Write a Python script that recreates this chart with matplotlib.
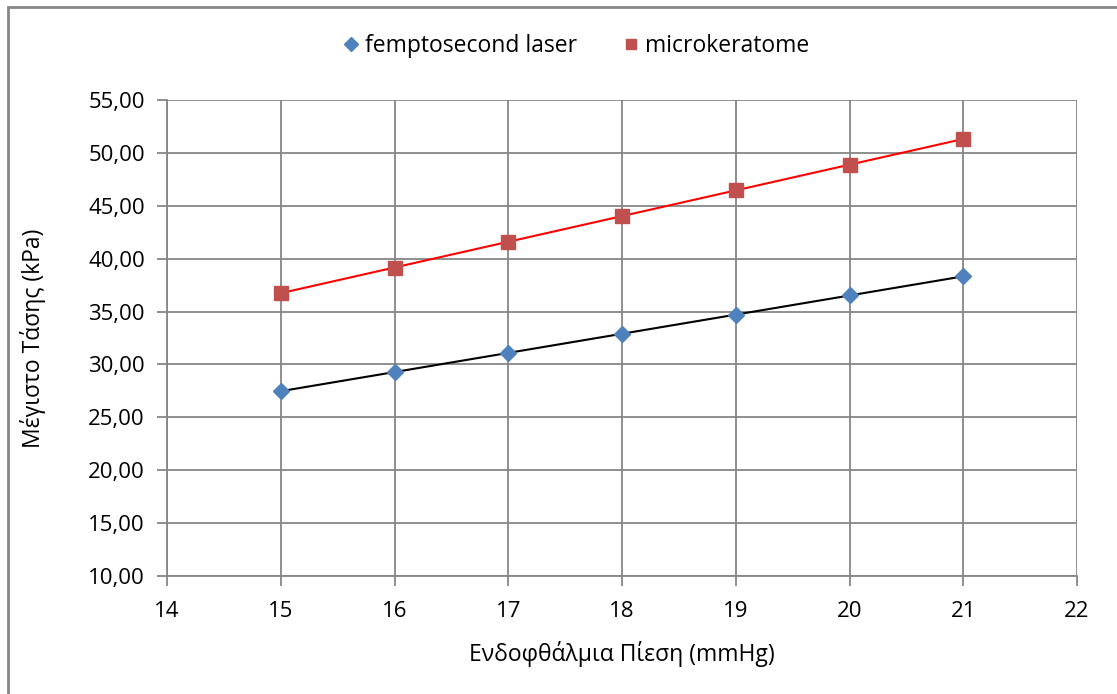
import numpy as np
import matplotlib
matplotlib.use("Agg")
import matplotlib.pyplot as plt
from matplotlib.patches import Rectangle

plt.rcParams['font.family'] = ['Open Sans', 'DejaVu Sans']

pressure = [15, 16, 17, 18, 19, 20, 21]
femto = [27.49, 29.29, 31.08, 32.88, 34.68, 36.52, 38.36]
micro = [36.75, 39.16, 41.58, 44.03, 46.45, 48.90, 51.31]

series_names = ["femptosecond laser", "microkeratome"]
x_ticks = [14, 15, 16, 17, 18, 19, 20, 21, 22]
y_ticks = [10, 15, 20, 25, 30, 35, 40, 45, 50, 55]

W, H = 1117, 694
fig = plt.figure(figsize=(W / 100, H / 100), dpi=100)
ax = fig.add_axes([167 / W, 1 - 576 / H, (1077 - 167) / W, (576 - 100) / H])

grid_c = '#868686'
ax.set_xlim(14, 22)
ax.set_ylim(10, 55)
ax.set_xticks(x_ticks)
ax.set_yticks(y_ticks)
ax.set_yticklabels([f"{v:.2f}".replace('.', ',') for v in y_ticks])
ax.grid(True, color=grid_c, linewidth=1.3)
ax.set_axisbelow(True)
for s in ['top', 'right']:
    ax.spines[s].set_visible(False)
for s in ['left', 'bottom']:
    ax.spines[s].set_color(grid_c)
    ax.spines[s].set_linewidth(1.3)
ax.tick_params(axis='both', colors=grid_c, length=7, width=1.3, labelsize=16,
               labelcolor='black')
ax.tick_params(axis='x', pad=11)
ax.tick_params(axis='y', pad=9)

px = np.array(pressure, dtype=float)
# trendlines (linear fits of the data)
for vals, col in [(femto, 'black'), (micro, 'red')]:
    k, b = np.polyfit(px, vals, 1)
    xs = np.array([px.min(), px.max()])
    ax.plot(xs, k * xs + b, color=col, linewidth=1.5, zorder=3)

ax.plot(pressure, femto, linestyle='none', marker='D', markersize=8.5,
        color='#4F81BD', markeredgecolor='#4F81BD', label=series_names[0], zorder=4)
ax.plot(pressure, micro, linestyle='none', marker='s', markersize=9.5,
        color='#C0504D', markeredgecolor='#C0504D', label=series_names[1], zorder=4)

ax.set_xlabel("Ενδοφθάλμια Πίεση (mmHg)", fontsize=16.5)
ax.set_ylabel("Μέγιστο Τάσης (kPa)", fontsize=16.5)
ax.xaxis.label.set_va('center')
ax.yaxis.label.set_va('center')
ax.xaxis.set_label_coords((622 - 167) / 910, (576 - 654) / 476)
ax.yaxis.set_label_coords((33 - 167) / 910, (576 - 338) / 476)

leg = fig.legend(loc='center', bbox_to_anchor=(575 / W, 1 - 46 / H), ncol=2,
                 frameon=False, fontsize=16.5, handletextpad=0.15, columnspacing=1.9,
                 handlelength=0.9, markerscale=0.8)

fig.patches.append(Rectangle((8 / W, -0.1), 1.2, 1 - 7 / H + 0.1,
                             transform=fig.transFigure, fill=False,
                             edgecolor='#868686', linewidth=2))

fig.savefig("out.png", dpi=100)
